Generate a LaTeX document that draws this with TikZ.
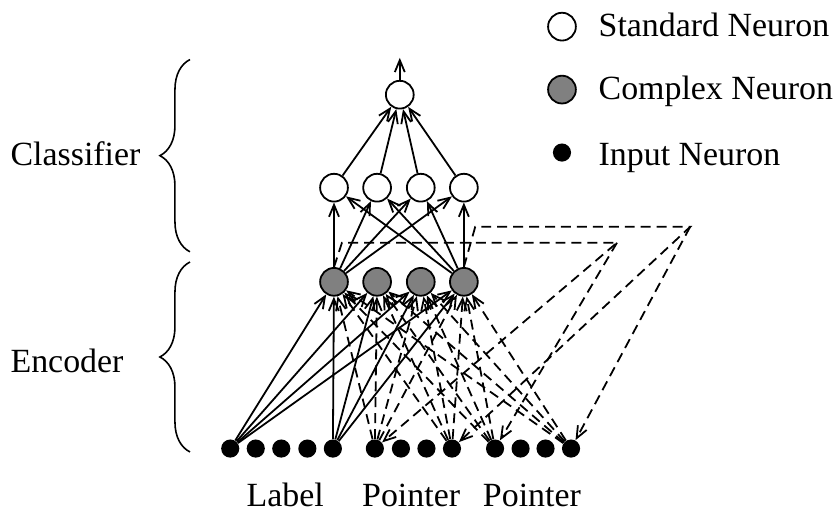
\documentclass[tikz,border=0pt]{standalone}
\usepackage{fontspec}
\setmainfont{Liberation Serif}
\usetikzlibrary{arrows.meta, decorations.pathreplacing}

\begin{document}
\begin{tikzpicture}[
    stdn/.style={circle, draw, fill=white, line width=0.9pt, minimum size=0.49cm, inner sep=0pt},
    cplxn/.style={stdn, fill=gray},
    inpn/.style={circle, fill=black, minimum size=0.32cm, inner sep=0pt},
    sarr/.style={-{Straight Barb[length=6pt,width=5pt]}, line width=0.9pt},
    darr/.style={sarr, dash pattern=on 5pt off 3pt},
    txt/.style={font=\fontsize{17}{20}\selectfont, inner sep=0pt},
    brc/.style={decorate, decoration={brace, amplitude=0.53cm}, line width=0.8pt}
  ]
  \useasboundingbox (0,0) rectangle (14.76,9.06);

  % classifier
  \node[stdn] (out) at (7.05,7.39) {};
  \coordinate (top) at (7.05,8.04);
  \node[stdn] (h1) at (5.89,5.75) {};
  \node[stdn] (h2) at (6.65,5.75) {};
  \node[stdn] (h3) at (7.42,5.75) {};
  \node[stdn] (h4) at (8.18,5.75) {};

  % encoder
  \node[cplxn] (c1) at (5.89,4.09) {};
  \node[cplxn] (c2) at (6.65,4.09) {};
  \node[cplxn] (c3) at (7.42,4.09) {};
  \node[cplxn] (c4) at (8.18,4.09) {};

  % inputs: label, pointer, pointer
  \node[inpn] (in1) at (4.06,1.15) {};
  \node[inpn] (in2) at (4.51,1.15) {};
  \node[inpn] (in3) at (4.96,1.15) {};
  \node[inpn] (in4) at (5.42,1.15) {};
  \node[inpn] (in5) at (5.87,1.15) {};
  \node[inpn] (in6) at (6.61,1.15) {};
  \node[inpn] (in7) at (7.07,1.15) {};
  \node[inpn] (in8) at (7.52,1.15) {};
  \node[inpn] (in9) at (7.97,1.15) {};
  \node[inpn] (in10) at (8.73,1.15) {};
  \node[inpn] (in11) at (9.18,1.15) {};
  \node[inpn] (in12) at (9.62,1.15) {};
  \node[inpn] (in13) at (10.07,1.15) {};

  \node[txt, anchor=base] (lbl) at (5.03,0.13) {Label};
  \node[txt, anchor=base] (ptra) at (7.25,0.13) {Pointer};
  \node[txt, anchor=base] (ptrb) at (9.38,0.13) {Pointer};

  % bends of the feedback lines
  \coordinate (a1) at (6.03,4.78);
  \coordinate (a2) at (10.88,4.78);
  \coordinate (b1) at (8.38,5.06);
  \coordinate (b2) at (12.17,5.06);

  \draw[sarr] (out) -- (top);
  \draw[sarr] (h1) -- (out);
  \draw[sarr] (h2) -- (out);
  \draw[sarr] (h3) -- (out);
  \draw[sarr] (h4) -- (out);

  \draw[sarr] (c1) -- (h1);
  \draw[sarr] (c1) -- (h2);
  \draw[sarr] (c1) -- (h3);
  \draw[sarr] (c1) -- (h4);
  \draw[sarr] (c4) -- (h1);
  \draw[sarr] (c4) -- (h2);
  \draw[sarr] (c4) -- (h3);
  \draw[sarr] (c4) -- (h4);

  \draw[sarr] (in1) -- (c1);
  \draw[sarr] (in1) -- (c2);
  \draw[sarr] (in1) -- (c3);
  \draw[sarr] (in1) -- (c4);
  \draw[sarr] (in5) -- (c1);
  \draw[sarr] (in5) -- (c2);
  \draw[sarr] (in5) -- (c3);
  \draw[sarr] (in5) -- (c4);

  \draw[darr] (in6) -- (c1);
  \draw[darr] (in6) -- (c2);
  \draw[darr] (in6) -- (c3);
  \draw[darr] (in6) -- (c4);
  \draw[darr] (in9) -- (c1);
  \draw[darr] (in9) -- (c2);
  \draw[darr] (in9) -- (c3);
  \draw[darr] (in9) -- (c4);
  \draw[darr] (in10) -- (c1);
  \draw[darr] (in10) -- (c2);
  \draw[darr] (in10) -- (c3);
  \draw[darr] (in10) -- (c4);
  \draw[darr] (in13) -- (c1);
  \draw[darr] (in13) -- (c2);
  \draw[darr] (in13) -- (c3);
  \draw[darr] (in13) -- (c4);

  \draw[darr] (c1.north) -- (a1) -- (a2) -- (in6);
  \draw[darr] (a2) -- (in10);
  \draw[darr] (c4.north) -- (b1) -- (b2) -- (in9);
  \draw[darr] (b2) -- (in13);

  % braces
  \draw[brc] (3.35,4.62) -- (3.35,8.01);
  \draw[brc] (3.35,1.09) -- (3.35,4.44);
  \node[txt, anchor=base west] (cls) at (0.18,6.15) {Classifier};
  \node[txt, anchor=base west] (enc) at (0.18,2.49) {Encoder};

  % legend
  \node[stdn] (kstd) at (9.91,8.59) {};
  \node[cplxn] (kcpx) at (9.91,7.48) {};
  \node[inpn] (kinp) at (9.91,6.37) {};
  \node[txt, anchor=base west] (tstd) at (10.55,8.41) {Standard Neuron};
  \node[txt, anchor=base west] (tcpx) at (10.55,7.30) {Complex Neuron};
  \node[txt, anchor=base west] (tinp) at (10.55,6.15) {Input Neuron};
\end{tikzpicture}
\end{document}
